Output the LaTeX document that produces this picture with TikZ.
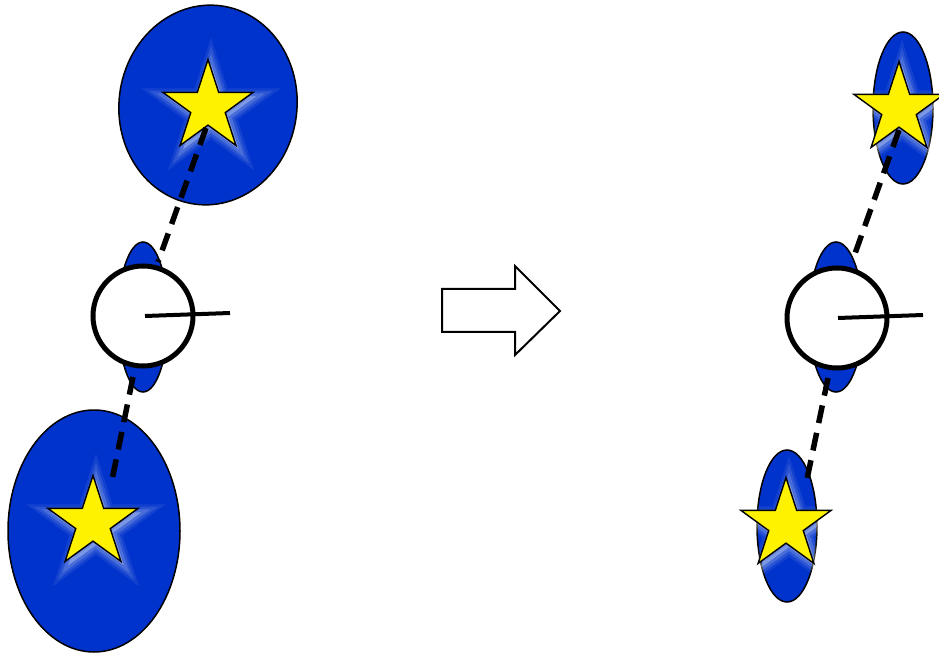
\documentclass[tikz,border=0pt]{standalone}
\usetikzlibrary{shapes.geometric}
\definecolor{dblue}{RGB}{0,51,204}
\tikzset{
  blob/.style={ellipse, draw=black, line width=1.5pt, fill=dblue, inner sep=0pt},
  starnode/.style={star, star points=5, star point ratio=2.618, draw=black, line width=1.4pt, fill=yellow, inner sep=0pt, minimum size=95pt},
  glow/.style={star, star points=5, star point ratio=2.618, draw=white, fill=white, inner sep=0pt, minimum size=95pt},
  hub/.style={circle, draw=black, line width=5pt, fill=white, inner sep=0pt, minimum size=100pt},
  tether/.style={line width=5.5pt, dash pattern=on 18pt off 10pt},
  arm/.style={line width=4pt},
}
\begin{document}
\begin{tikzpicture}[x=1pt,y=1pt]
\useasboundingbox (0,0) rectangle (939,654);
\clip (0,0) rectangle (939,654);
% ---------- big ellipses ----------
\node[blob, minimum width=178pt, minimum height=200pt, rotate=-7] (e1) at (208,549) {};
\node[blob, minimum width=172pt, minimum height=242pt] (e3) at (94,123) {};
\node[blob, minimum width=60pt, minimum height=152pt] (e4) at (903,546) {};
\node[blob, minimum width=60pt, minimum height=152pt] (e6) at (787,128) {};
% soft glows (offset to lower right)
\foreach \p/\n in {{(211,543)}/a,{(96,127)}/b,{(902,541)}/c,{(789,125)}/d}{
  \node[glow, line width=16pt, opacity=0.07] (g1\n) at \p {};
  \node[glow, line width=11pt, opacity=0.1] (g2\n) at \p {};
  \node[glow, line width=6pt, opacity=0.15] (g3\n) at \p {};
}
\node[starnode] (s1) at (208,547) {};
\node[starnode] (s2) at (93,131) {};
\node[starnode] (s3) at (899,545) {};
\node[starnode] (s4) at (786,129) {};
% small ellipses behind hubs
\node[blob, minimum width=50pt, minimum height=150pt] (e2) at (143,337) {};
\node[blob, minimum width=54pt, minimum height=150pt] (e5) at (836,337) {};
% hubs
\node[hub] (c1) at (143,338) {};
\node[hub] (c2) at (837,336) {};
% tethers
\coordinate (t1a) at (206,526);
\coordinate (t1b) at (158,392);
\coordinate (t2a) at (133,277);
\coordinate (t2b) at (112,174);
\coordinate (t3a) at (899,524);
\coordinate (t3b) at (852,392);
\coordinate (t4a) at (828,276);
\coordinate (t4b) at (806,170);
\draw[tether] (t1a) -- (t1b);
\draw[tether] (t2a) -- (t2b);
\draw[tether] (t3a) -- (t3b);
\draw[tether] (t4a) -- (t4b);
% arms
\coordinate (r1) at (230,341);
\coordinate (r2) at (923,339);
\draw[arm] (c1.center) ++(2,0) -- (r1);
\draw[arm] (c2.center) ++(1,0) -- (r2);
% block arrow
\draw[line width=2pt, fill=white, line join=miter]
  (442,365) coordinate (ba) -- (515,365) -- (515,388) -- (560,343) -- (515,299) -- (515,322) -- (442,322) -- cycle;
\end{tikzpicture}
\end{document}
